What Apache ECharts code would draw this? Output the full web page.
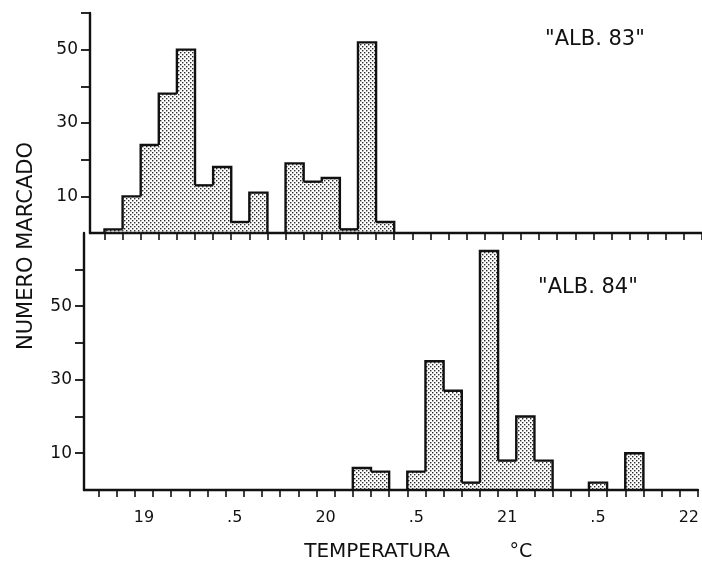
<!DOCTYPE html>
<html>
<head>
<meta charset="utf-8">
<title>ALB. 83 / ALB. 84</title>
<script src="https://cdn.jsdelivr.net/npm/echarts@6/dist/echarts.min.js"></script>
<style>
  html, body { margin: 0; padding: 0; background: #fff; }
  #chart { width: 702px; height: 571px; }
</style>
</head>
<body>
<div id="chart"></div>
<script>
// class centres (deg C) and number marked
var bins83 = [18.8, 18.9, 19.0, 19.1, 19.2, 19.3, 19.4, 19.5, 19.6, 19.7, 19.8, 19.9, 20.0, 20.1, 20.2, 20.3];
var counts83 = [1, 10, 24, 38, 50, 13, 18, 3, 11, 0, 19, 14, 15, 1, 52, 3];

var bins84 = [20.2, 20.3, 20.4, 20.5, 20.6, 20.7, 20.8, 20.9, 21.0, 21.1, 21.2, 21.3, 21.4, 21.5, 21.6, 21.7];
var counts84 = [6, 5, 0, 5, 35, 27, 2, 65, 8, 20, 8, 0, 0, 2, 0, 10];

var xLabelValues = [19, 19.5, 20, 20.5, 21, 21.5, 22];
var xLabelTexts = ['19', '.5', '20', '.5', '21', '.5', '22'];
var yTickValues = [10, 20, 30, 40, 50, 60];
var yLabelValues = [10, 30, 50];

var X_MIN = 18.67, X_MAX = 22.05, BIN = 0.1;
var INK = '#111';

// tick marks sit on the class boundaries
var binEdges = [];
for (var k = 1875; k <= 2205; k += 10) binEdges.push(k / 100);

// stipple fill of the bars
var dots = document.createElement('canvas');
dots.width = 4; dots.height = 4;
var g = dots.getContext('2d');
g.fillStyle = '#2a2a2a';
g.fillRect(0, 0, 1.4, 1.4);
g.fillRect(2, 2, 1.4, 1.4);
var stipple = { image: dots, repeat: 'repeat' };

var chart = echarts.init(document.getElementById('chart'));

// one bar of a step histogram: fill + outline, sides only where taller than neighbour
function histItem(bins, counts) {
    return function (params, api) {
        var i = params.dataIndex;
        var c = bins[i], v = counts[i];
        if (!v) return;
        var p0 = api.coord([c - BIN / 2, 0]);
        var p1 = api.coord([c + BIN / 2, v]);
        var left = counts[i - 1] || 0, right = counts[i + 1] || 0;
        var yl = api.coord([c, left])[1], yr = api.coord([c, right])[1];
        var pts = [];
        if (v > left) pts.push([p0[0], yl]);
        pts.push([p0[0], p1[1]], [p1[0], p1[1]]);
        if (v > right) pts.push([p1[0], yr]);
        return {
            type: 'group',
            children: [
                { type: 'rect', shape: { x: p0[0], y: p1[1], width: p1[0] - p0[0], height: p0[1] - p1[1] },
                  style: { fill: stipple } },
                { type: 'polyline', shape: { points: pts },
                  style: { stroke: INK, lineWidth: 2.4, fill: null } }
            ]
        };
    };
}

function xAxisFor(gridIndex, showLabels) {
    return {
        type: 'value', gridIndex: gridIndex, min: X_MIN, max: X_MAX,
        axisLine: { show: true, onZero: false, lineStyle: { color: INK, width: 2.4 } },
        axisTick: { show: true, length: 7, customValues: binEdges, lineStyle: { color: INK, width: 1.6 } },
        axisLabel: {
            show: showLabels, customValues: xLabelValues, margin: 20,
            fontFamily: 'DejaVu Sans', fontSize: 16, color: INK,
            formatter: function (v) {
                for (var j = 0; j < xLabelValues.length; j++) {
                    if (Math.abs(xLabelValues[j] - v) < 1e-6) return xLabelTexts[j];
                }
                return '';
            }
        },
        splitLine: { show: false }
    };
}

function yAxisFor(gridIndex, max) {
    return {
        type: 'value', gridIndex: gridIndex, min: 0, max: max, interval: 10,
        axisLine: { show: true, lineStyle: { color: INK, width: 2.4 } },
        axisTick: { show: true, length: 9, customValues: yTickValues, lineStyle: { color: INK, width: 1.8 } },
        axisLabel: {
            customValues: yLabelValues, margin: 12,
            fontFamily: 'DejaVu Sans', fontSize: 17, color: INK
        },
        splitLine: { show: false }
    };
}

var option = {
    backgroundColor: '#fff',
    animation: false,
    grid: [
        { left: 90, top: 13, width: 618.5, height: 220 },
        { left: 84, top: 233, width: 618.5, height: 257 }
    ],
    xAxis: [xAxisFor(0, false), xAxisFor(1, true)],
    yAxis: [yAxisFor(0, 60), yAxisFor(1, 69.9)],
    series: [
        {
            name: 'ALB. 83', type: 'custom', xAxisIndex: 0, yAxisIndex: 0, clip: false,
            renderItem: histItem(bins83, counts83),
            data: bins83.map(function (c, i) { return [c, counts83[i]]; })
        },
        {
            name: 'ALB. 84', type: 'custom', xAxisIndex: 1, yAxisIndex: 1, clip: false,
            renderItem: histItem(bins84, counts84),
            data: bins84.map(function (c, i) { return [c, counts84[i]]; })
        }
    ],
    graphic: [
        { type: 'text', left: 545, top: 29,
          style: { text: '"ALB. 83"', font: '21px "DejaVu Sans"', fill: INK } },
        { type: 'text', left: 538, top: 277,
          style: { text: '"ALB. 84"', font: '21px "DejaVu Sans"', fill: INK } },
        { type: 'text', x: 27, y: 246, rotation: Math.PI / 2,
          style: { text: 'NUMERO MARCADO', font: '21px "DejaVu Sans"', fill: INK,
                   align: 'center', verticalAlign: 'middle' } },
        { type: 'text', x: 377, y: 552,
          style: { text: 'TEMPERATURA', font: '20px "DejaVu Sans"', fill: INK,
                   align: 'center', verticalAlign: 'middle' } },
        { type: 'text', x: 521, y: 552,
          style: { text: '°C', font: '19px "DejaVu Sans"', fill: INK,
                   align: 'center', verticalAlign: 'middle' } }
    ]
};

chart.setOption(option);
</script>
</body>
</html>
